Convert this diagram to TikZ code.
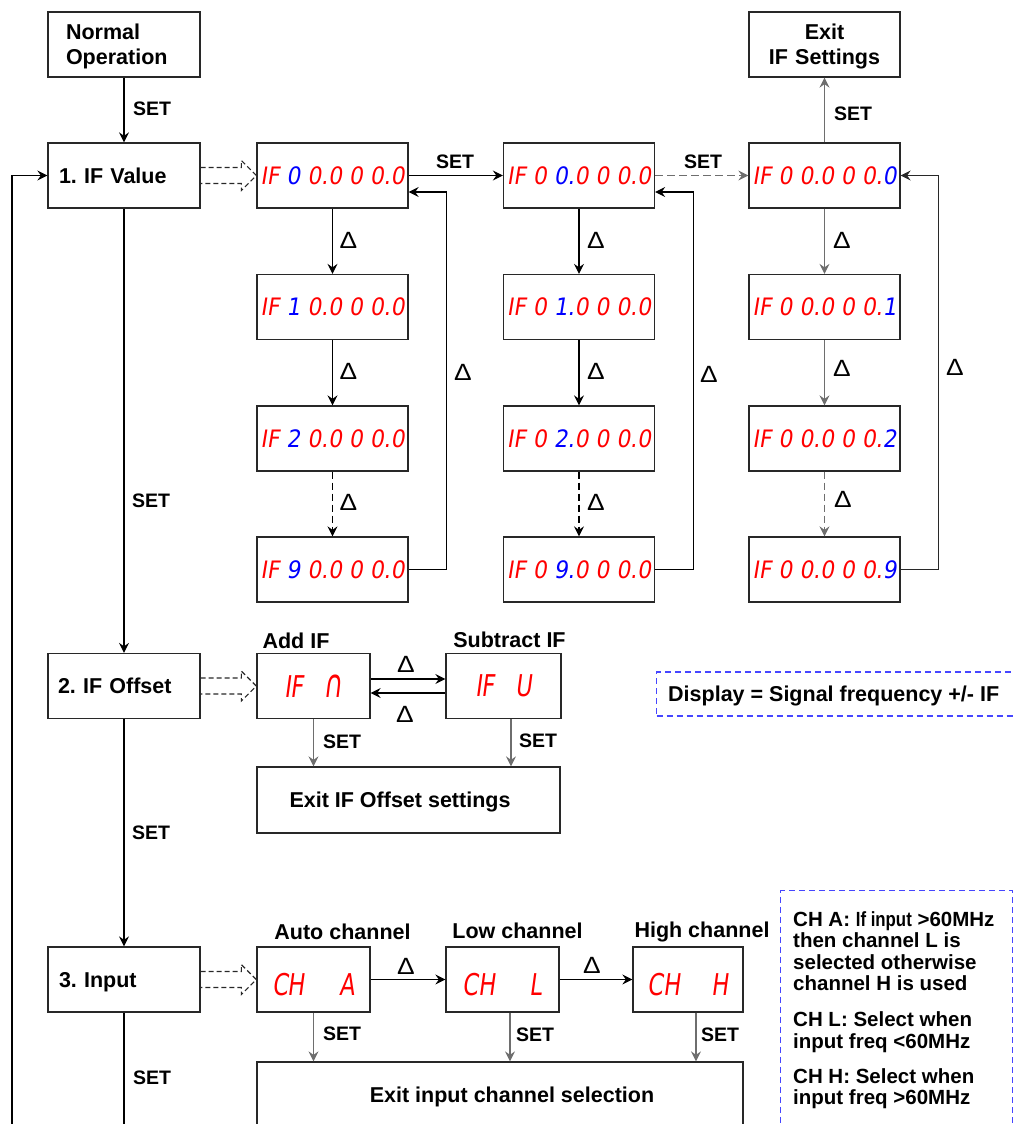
\documentclass[tikz,border=0pt]{standalone}
\usepackage{fontspec}
\usepackage{graphicx}
\setmainfont{Liberation Sans}
\newfontfamily\segfont{DejaVu Sans}[FakeSlant=0.18]
\usetikzlibrary{arrows.meta,calc}
\frenchspacing
\definecolor{segred}{RGB}{255,0,0}
\definecolor{segblue}{RGB}{0,0,255}
\definecolor{boxc}{RGB}{40,40,40}
\definecolor{garr}{RGB}{110,110,110}
\definecolor{noteblue}{RGB}{70,70,255}
\newcommand\mainsz{\fontsize{21.5}{25}\selectfont\bfseries}
\newcommand\setsz{\fontsize{19.5}{22}\selectfont\bfseries}
\newcommand\delsz{\fontsize{23.5}{23.5}\selectfont}
\newcommand\notesz{\fontsize{20.5}{21.5}\selectfont\bfseries}
\newcommand\segrow[1]{\scalebox{0.91}[1]{\fontsize{24}{24}\selectfont\segfont\color{segred}#1}}
\newcommand\segbig[1]{\scalebox{0.75}[1]{\fontsize{30}{30}\selectfont\segfont\color{segred}#1}}
\newcommand\bl[1]{\textcolor{segblue}{#1}}
\newcommand\dlt{\scalebox{1.12}[1]{Δ}}
\newcommand\hollowarrow[2]{%
  \draw[hol] ($(#1.east)+(0,-8)$) -- ($(#2.west)+(-15,-8)$) -- ($(#2.west)+(-15,-15)$) -- (#2.west)
    -- ($(#2.west)+(-15,15)$) -- ($(#2.west)+(-15,8)$) -- ($(#1.east)+(0,8)$);}
\begin{document}
\begin{tikzpicture}[x=1pt,y=-1pt,
  box/.style={draw=boxc, line width=1.3pt, minimum width=152pt, minimum height=65pt, inner sep=0pt, font=\mainsz},
  disp/.style={draw=boxc, line width=1.3pt, minimum width=151pt, minimum height=65pt, inner sep=0pt},
  lbl/.style={inner sep=0pt, font=\mainsz, anchor=base},
  setl/.style={inner sep=0pt, font=\setsz, anchor=base west},
  dl/.style={inner sep=0pt, font=\delsz},
  ln/.style={line width=1.2pt, draw=black},
  arr/.style={line width=1.2pt, draw=black, -{Stealth[length=10pt,width=10pt,inset=3.5pt]}},
  garrow/.style={arr, draw=garr},
  dsh/.style={dash pattern=on 7pt off 4pt},
  hol/.style={dash pattern=on 5pt off 3pt, line width=1.2pt, draw=boxc},
  note/.style={draw=noteblue, line width=1.2pt, dash pattern=on 6pt off 4pt, inner sep=0pt}]
\useasboundingbox (0,0) rectangle (1014,1124);
\clip (0,0) rectangle (1014,1124);

% left column
\node[box, text width=116pt, align=left] (norm) at (124,44.5) {\rule{0pt}{20pt}Normal\\Operation};
\node[box, text width=130pt, align=left, text depth=0pt] (ifv) at (124,175.5) {1. IF Value};
\node[box, text width=132pt, align=left, text depth=0pt] (ifo) at (124,686) {2. IF Offset};
\node[box, text width=130pt, align=left, text depth=0pt] (inp) at (124,979.5) {3. Input};
\node[box, minimum width=151pt, text width=140pt, align=center] (exitif) at (824.5,44.5) {\rule{0pt}{19pt}Exit\\IF Settings};

% display column 1
\node[disp] (d11) at (332.5,175.5) {\segrow{IF \bl{0} 0.0 0 0.0}};
\node[disp] (d12) at (332.5,307) {\segrow{IF \bl{1} 0.0 0 0.0}};
\node[disp] (d13) at (332.5,438.5) {\segrow{IF \bl{2} 0.0 0 0.0}};
\node[disp] (d14) at (332.5,569.5) {\segrow{IF \bl{9} 0.0 0 0.0}};
% display column 2
\node[disp] (d21) at (579,175.5) {\segrow{IF 0 \bl{0.}0 0 0.0}};
\node[disp] (d22) at (579,307) {\segrow{IF 0 \bl{1.}0 0 0.0}};
\node[disp] (d23) at (579,438.5) {\segrow{IF 0 \bl{2.}0 0 0.0}};
\node[disp] (d24) at (579,569.5) {\segrow{IF 0 \bl{9.}0 0 0.0}};
% display column 3
\node[disp] (d31) at (824.5,175.5) {\segrow{IF 0 0.0 0 0.\bl{0}}};
\node[disp] (d32) at (824.5,307) {\segrow{IF 0 0.0 0 0.\bl{1}}};
\node[disp] (d33) at (824.5,438.5) {\segrow{IF 0 0.0 0 0.\bl{2}}};
\node[disp] (d34) at (824.5,569.5) {\segrow{IF 0 0.0 0 0.\bl{9}}};

% IF offset row
\node[disp, minimum width=113pt] (addif) at (313.5,686) {\segbig{IF\hspace{0.9em}\scalebox{1.15}[1.3]{∩}}};
\node[disp, minimum width=115pt] (subif) at (503.5,686) {\segbig{IF\hspace{0.9em}U}};
\node[disp, minimum width=303pt, minimum height=66pt, font=\mainsz, text depth=0pt] (exitoff) at (408.5,800) {Exit IF Offset settings\hspace*{17pt}};
\node[lbl] (laddif) at (296,648) {Add IF};
\node[lbl] (lsubif) at (509.5,647) {Subtract IF};

% input row
\node[disp, minimum width=113pt, text height=32pt, text depth=0pt] (auto) at (313.5,979.5) {\segbig{CH\hspace{1.55em}A}};
\node[disp, minimum width=113pt, text height=32pt, text depth=0pt] (low) at (502.5,979.5) {\segbig{CH\hspace{1.55em}L}};
\node[disp, minimum width=110pt, text height=32pt, text depth=0pt] (high) at (688,979.5) {\segbig{CH\hspace{1.4em}H}};
\node[disp, minimum width=486pt, minimum height=90pt] (exitin) at (500,1107) {};
\node[lbl] (exitintxt) at (512,1102) {Exit input channel selection};
\node[lbl] (lauto) at (342.5,939) {Auto channel};
\node[lbl] (llow) at (517.5,938) {Low channel};
\node[lbl] (lhigh) at (702,937) {High channel};

% notes
\node[note, minimum width=380pt, minimum height=44pt, anchor=west] (dispnote) at (656,694) {};
\node[lbl, anchor=base west] (dispnotetxt) at (668,701) {Display = Signal frequency +/- IF};
\node[note, minimum width=232pt, minimum height=260pt, anchor=north west] (notes) at (780,890) {};
\node[inner sep=0pt, anchor=north west, align=left, font=\notesz] (notestxt) at (793,911.3)
  {CH A: \scalebox{0.82}[1]{If input} >60MHz\\then channel L is\\selected otherwise\\channel H is used\\[14.5pt]
   CH L: Select when\\input freq <60MHz\\[13.5pt]CH H: Select when\\input freq >60MHz};

% left column connectors
\draw[arr] (norm.south) -- (ifv.north);
\draw[arr] (ifv.south) -- (ifo.north);
\draw[arr] (ifo.south) -- (inp.north);
\coordinate (botc) at (124,1130);
\draw[ln] (inp.south) -- (botc);
\coordinate (loopb) at (12,1130);
\draw[arr] (loopb) |- (ifv.west);
\node[setl] (s1) at (133,115) {SET};
\node[setl] (s2) at (132,507.5) {SET};
\node[setl] (s3) at (132,839.5) {SET};
\node[setl] (s4) at (133,1084) {SET};

% hollow dashed arrows
\hollowarrow{ifv}{d11}
\hollowarrow{ifo}{addif}
\hollowarrow{inp}{auto}

% column 1
\draw[arr] (d11.south) -- (d12.north);
\draw[arr] (d12.south) -- (d13.north);
\draw[arr, dsh] (d13.south) -- (d14.north);
\draw[arr] (d14.east) -- ++(38,0) |- ($(d11.east)+(0,16.5)$);
\node[dl] (t11) at (348.5,240) {\dlt};
\node[dl] (t12) at (348.5,371) {\dlt};
\node[dl] (t13) at (348.5,502) {\dlt};
\node[dl] (t14) at (463,372) {\dlt};
\draw[arr] (d11.east) -- (d21.west);
\node[setl] (s5) at (436,168) {SET};

% column 2
\draw[arr] (d21.south) -- (d22.north);
\draw[arr] (d22.south) -- (d23.north);
\draw[arr, dsh] (d23.south) -- (d24.north);
\draw[arr] (d24.east) -- ++(38,0) |- ($(d21.east)+(0,16.5)$);
\node[dl] (t21) at (596,240) {\dlt};
\node[dl] (t22) at (596,371) {\dlt};
\node[dl] (t23) at (596,502) {\dlt};
\node[dl] (t24) at (709,374) {\dlt};
\draw[garrow, dash pattern=on 8pt off 4pt] (d21.east) -- (d31.west);
\node[setl] (s6) at (684,168) {SET};

% column 3
\draw[garrow] (d31.north) -- (exitif.south);
\node[setl] (s7) at (834,120) {SET};
\draw[garrow] (d31.south) -- (d32.north);
\draw[garrow] (d32.south) -- (d33.north);
\draw[garrow, dsh] (d33.south) -- (d34.north);
\draw[arr, draw=boxc] (d34.east) -- ++(38,0) |- (d31.east);
\node[dl] (t31) at (842,240) {\dlt};
\node[dl] (t32) at (842,368) {\dlt};
\node[dl] (t33) at (843,499) {\dlt};
\node[dl] (t34) at (955,367) {\dlt};

% IF offset connectors
\draw[arr] ($(addif.east)+(0,-7)$) -- ($(subif.west)+(0,-7)$);
\draw[arr] ($(subif.west)+(0,7)$) -- ($(addif.east)+(0,7)$);
\node[dl] (t41) at (406,664) {\dlt};
\node[dl] (t42) at (405,714) {\dlt};
\draw[garrow] (addif.south) -- (addif.south |- exitoff.north);
\coordinate (subs) at ($(subif.south)+(7.5,0)$);
\draw[garrow] (subs) -- (subs |- exitoff.north);
\node[setl] (s8) at (323,748) {SET};
\node[setl] (s9) at (519,747) {SET};

% input connectors
\draw[arr] (auto.east) -- (low.west);
\draw[arr] (low.east) -- (high.west);
\node[dl] (t51) at (406,966) {\dlt};
\node[dl] (t52) at (592,965) {\dlt};
\draw[garrow] (auto.south) -- (auto.south |- exitin.north);
\coordinate (lows) at ($(low.south)+(7.5,0)$);
\draw[garrow] (lows) -- (lows |- exitin.north);
\coordinate (highs) at ($(high.south)+(8,0)$);
\draw[garrow] (highs) -- (highs |- exitin.north);
\node[setl] (s10) at (323,1040) {SET};
\node[setl] (s11) at (516,1041) {SET};
\node[setl] (s12) at (701,1041) {SET};
\end{tikzpicture}
\end{document}
